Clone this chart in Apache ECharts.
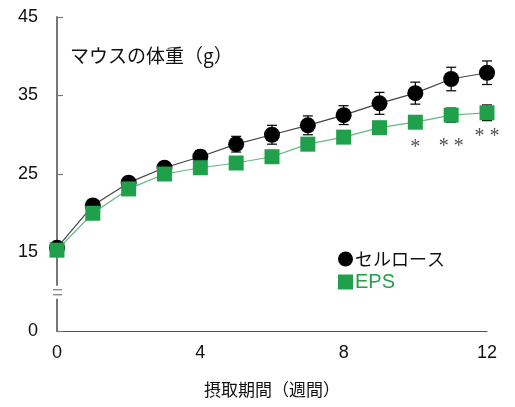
<!DOCTYPE html>
<html>
<head>
<meta charset="utf-8">
<script src="https://cdn.jsdelivr.net/npm/echarts@6.0.0/dist/echarts.min.js"></script>
<style>
html, body { margin: 0; padding: 0; background: #fff; }
#chart { width: 515px; height: 407px; }
</style>
</head>
<body>
<div id="chart"></div>
<script>
// 週数
var weeks = [0, 1, 2, 3, 4, 5, 6, 7, 8, 9, 10, 11, 12];
// セルロース群 平均体重と誤差
var cellulose = [15.6, 21.0, 23.9, 25.8, 27.2, 28.8, 30.0, 31.2, 32.5, 34.0, 35.3, 37.1, 37.9];
var celluloseErr = [0.3, 0.4, 0.5, 0.6, 0.8, 1.0, 1.2, 1.2, 1.2, 1.4, 1.4, 1.5, 1.5];
// EPS群
var eps = [15.3, 20.0, 23.1, 25.0, 25.8, 26.4, 27.2, 28.8, 29.7, 30.9, 31.6, 32.5, 32.8];
var epsErr = [0.3, 0.3, 0.4, 0.4, 0.5, 0.5, 0.5, 0.6, 0.6, 0.6, 0.7, 0.9, 1.0];
// 有意差の印
var sigWeeks = [10, 11, 12];
var sigMarks = ['*', '* *', '* *'];
var sigPos = [28.3, 28.5, 29.7];
// 軸目盛 (0 は省略記号の下)
var yTickValues = [5, 15, 25, 35, 45];
var yTickLabels = ['0', '15', '25', '35', '45'];
var xTickLabels = [0, 4, 8, 12];

var BLACK = '#000000';
var GREEN = '#21a04c';

function pairs(xs, ys, es) {
	var out = [];
	for (var i = 0; i < xs.length; i++) {
		out.push(es ? [xs[i], ys[i], es[i]] : [xs[i], ys[i]]);
	}
	return out;
}

function errorBar(color) {
	return function(params, api) {
		var x = api.value(0), y = api.value(1), e = api.value(2);
		var hi = api.coord([x, y + e]);
		var lo = api.coord([x, y - e]);
		var w = 5;
		var st = { stroke: color, lineWidth: 1.2 };
		return {
			type: 'group',
			children: [
				{ type: 'line', shape: { x1: hi[0], y1: hi[1], x2: lo[0], y2: lo[1] }, style: st },
				{ type: 'line', shape: { x1: hi[0] - w, y1: hi[1], x2: hi[0] + w, y2: hi[1] }, style: st },
				{ type: 'line', shape: { x1: lo[0] - w, y1: lo[1], x2: lo[0] + w, y2: lo[1] }, style: st }
			]
		};
	};
}

var myChart = echarts.init(document.getElementById('chart'));

var sigData = [];
for (var i = 0; i < sigWeeks.length; i++) {
	sigData.push({ value: [sigWeeks[i], sigPos[i]], label: { formatter: sigMarks[i] } });
}

var option = {
	animation: false,
	textStyle: { fontFamily: 'Liberation Sans, Arial, sans-serif' },
	title: {
		text: 'マウスの体重（g）',
		left: 65,
		top: 41,
		textStyle: { fontFamily: 'Noto Sans CJK JP', fontSize: 19, fontWeight: 'normal', color: '#111' }
	},
	legend: {
		orient: 'vertical',
		left: 333,
		top: 245,
		itemWidth: 15,
		itemHeight: 15,
		itemGap: 4,
		textStyle: { fontFamily: 'Noto Sans CJK JP', fontSize: 18, color: '#111', padding: [0, 0, 0, -3] },
		data: [
			{ name: 'セルロース', icon: 'circle' },
			{ name: 'EPS', icon: 'rect', textStyle: { color: GREEN, fontFamily: 'Liberation Sans', fontSize: 20 } }
		]
	},
	grid: { left: 57, right: 28, top: 17, bottom: 76 },
	xAxis: {
		type: 'value',
		min: 0,
		max: 12,
		interval: 4,
		name: '摂取期間（週間）',
		nameLocation: 'middle',
		nameGap: 50,
		nameTextStyle: { fontFamily: 'Noto Sans CJK JP', fontSize: 17, color: '#111' },
		axisLine: { lineStyle: { color: '#555', width: 1.2 } },
		axisTick: { show: false },
		splitLine: { show: false },
		axisLabel: {
			fontSize: 18,
			color: '#111',
			margin: 13,
			formatter: function(v) { return xTickLabels.indexOf(v) >= 0 ? String(v) : ''; }
		}
	},
	yAxis: {
		type: 'value',
		min: 5,
		max: 45,
		interval: 10,
		axisLine: { show: true, lineStyle: { color: '#777', width: 2 } },
		axisTick: { show: true, inside: true, length: 6, lineStyle: { color: '#777', width: 1.2 } },
		splitLine: { show: false },
		axisLabel: {
			fontSize: 18,
			color: '#111',
			margin: 19,
			formatter: function(v) {
				var k = yTickValues.indexOf(v);
				return k >= 0 ? yTickLabels[k] : '';
			}
		}
	},
	series: [
		{
			name: 'cellErr',
			type: 'custom',
			renderItem: errorBar(BLACK),
			data: pairs(weeks, cellulose, celluloseErr),
			z: 1
		},
		{
			name: 'セルロース',
			type: 'line',
			data: pairs(weeks, cellulose),
			symbol: 'circle',
			symbolSize: 16,
			itemStyle: { color: BLACK },
			lineStyle: { color: '#444', width: 1.2 },
			z: 2
		},
		{
			name: 'epsErr',
			type: 'custom',
			renderItem: errorBar(BLACK),
			data: pairs(weeks, eps, epsErr),
			z: 3
		},
		{
			name: 'EPS',
			type: 'line',
			data: pairs(weeks, eps),
			symbol: 'rect',
			symbolSize: 15,
			itemStyle: { color: GREEN },
			lineStyle: { color: '#5dba7d', width: 1.2 },
			z: 4
		},
		{
			name: 'sig',
			type: 'scatter',
			symbolSize: 0,
			data: sigData,
			label: {
				show: true,
				position: 'inside',
				fontSize: 20,
				fontFamily: 'Liberation Serif',
				color: '#222'
			},
			z: 5
		}
	]
};

myChart.setOption(option);

// 縦軸の省略記号
var by = myChart.convertToPixel({ yAxisIndex: 0 }, 10);
var bx = myChart.convertToPixel({ xAxisIndex: 0 }, 0);
myChart.setOption({
	graphic: [
		{ type: 'rect', shape: { x: bx - 4, y: by - 6, width: 8, height: 13 }, style: { fill: '#fff' }, z: 10 },
		{ type: 'line', shape: { x1: bx - 4, y1: by - 2, x2: bx + 5, y2: by - 2 }, style: { stroke: '#777', lineWidth: 1.2 }, z: 11 },
		{ type: 'line', shape: { x1: bx - 4, y1: by + 3, x2: bx + 5, y2: by + 3 }, style: { stroke: '#777', lineWidth: 1.2 }, z: 11 }
	]
});
</script>
</body>
</html>
